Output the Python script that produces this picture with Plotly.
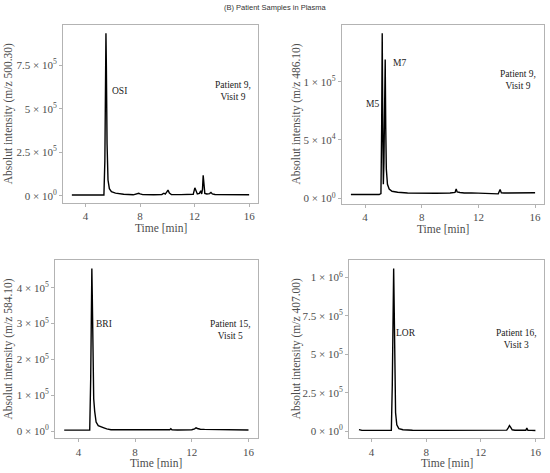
import plotly.graph_objects as go

# chromatogram points (time in min, intensity in counts)
osi_time = [3.0, 5.35, 5.42, 5.47, 5.5, 5.53, 5.58, 5.65, 5.75, 5.9, 6.2, 6.8, 7.5, 7.8, 7.9,
            8.0, 8.2, 9.0, 9.6, 9.75, 9.85, 9.95, 10.05, 10.15, 10.3, 11.0, 11.9, 12.02, 12.1,
            12.2, 12.35, 12.45, 12.52, 12.58, 12.63, 12.68, 12.75, 12.9, 13.1, 13.2, 13.3, 13.5,
            14.5, 16.0]
osi_int = [4000, 4000, 200000, 700000, 933000, 750000, 300000, 90000, 40000, 23000, 15000,
           8000, 5000, 10000, 14000, 10000, 6000, 5000, 7000, 14000, 9000, 20000, 32000, 15000,
           7000, 6000, 8000, 45000, 28000, 10000, 13000, 28000, 10000, 38000, 117000, 38000,
           13000, 10000, 12000, 19000, 10000, 7000, 5000, 5000]

m_time = [3.0, 3.5, 4.0, 4.5, 5.0, 5.12, 5.17, 5.21, 5.25, 5.29, 5.33, 5.38, 5.42, 5.46, 5.5,
          5.58, 5.7, 5.9, 6.3, 7.0, 8.0, 9.0, 10.0, 10.35, 10.43, 10.5, 10.7, 11.0, 11.5, 12.0,
          12.5, 13.0, 13.4, 13.53, 13.62, 13.8, 14.5, 15.0, 15.5, 16.0]
m_int = [3200, 3400, 3000, 3300, 3200, 4000, 60000, 141500, 60000, 12000, 30000, 100000,
         119000, 60000, 25000, 12000, 8000, 6000, 5200, 4500, 4200, 4300, 4500, 5000, 8000,
         5500, 5000, 4500, 4600, 4300, 4600, 4200, 3800, 7500, 4600, 4500, 4600, 4500, 5000,
         4700]

bri_time = [3.0, 4.0, 4.8, 4.87, 4.92, 4.95, 4.98, 5.02, 5.08, 5.15, 5.25, 5.4, 5.6, 5.8, 6.0,
            6.3, 7.0, 8.0, 9.0, 10.0, 10.45, 10.52, 10.6, 11.0, 12.0, 12.2, 12.3, 12.4, 12.6,
            12.9, 13.2, 13.35, 13.5, 14.0, 15.0, 16.0]
bri_int = [2500, 2500, 3000, 150000, 380000, 454000, 380000, 200000, 90000, 55000, 25000,
           15000, 11000, 9000, 6000, 3500, 3500, 3500, 3000, 3000, 3500, 6500, 3500, 3000, 3500,
           6000, 9000, 7000, 5000, 4500, 4500, 5000, 4000, 3000, 3000, 3000]

lor_time = [3.08, 3.3, 4.0, 5.0, 5.45, 5.52, 5.57, 5.62, 5.66, 5.7, 5.76, 5.85, 6.0, 6.3, 7.0,
            9.0, 11.0, 13.0, 13.9, 14.02, 14.1, 14.18, 14.3, 14.5, 15.0, 15.3, 15.37, 15.45,
            15.7, 16.0]
lor_int = [9000, 4000, 4000, 4000, 5000, 300000, 850000, 1060000, 800000, 400000, 120000,
           40000, 15000, 8000, 5000, 4000, 4000, 4000, 6000, 22000, 35000, 25000, 8000, 5000,
           4500, 5000, 20000, 5000, 4000, 3500]

x_ticks = [4, 8, 12, 16]

y_titles = ["Absolut intensity (m/z 500.30)", "Absolut intensity (m/z 486.10)",
            "Absolut intensity (m/z 584.10)", "Absolut intensity (m/z 407.00)"]

osi_yticks = [0, 250000, 500000, 750000]
osi_ylabels = ["0 × 10<sup>0</sup>", "2.5 × 10<sup>5</sup>", "5 × 10<sup>5</sup>", "7.5 × 10<sup>5</sup>"]
m_yticks = [0, 50000, 100000]
m_ylabels = ["0 × 10<sup>0</sup>", "5 × 10<sup>4</sup>", "1 × 10<sup>5</sup>"]
bri_yticks = [0, 100000, 200000, 300000, 400000]
bri_ylabels = ["0 × 10<sup>0</sup>", "1 × 10<sup>5</sup>", "2 × 10<sup>5</sup>", "3 × 10<sup>5</sup>", "4 × 10<sup>5</sup>"]
lor_yticks = [0, 250000, 500000, 750000, 1000000]
lor_ylabels = ["0 × 10<sup>0</sup>", "2.5 × 10<sup>5</sup>", "5 × 10<sup>5</sup>", "7.5 × 10<sup>5</sup>", "1 × 10<sup>6</sup>"]

# peak labels and sample labels: (panel, x, y, text, anchor)
labels = [
    (1, 5.8, 600000, "OSI", "left"),
    (1, 14.8, 600000, "Patient 9,<br>Visit 9", "center"),
    (2, 4.5, 81000, "M5", "center"),
    (2, 6.4, 116000, "M7", "center"),
    (2, 14.8, 101500, "Patient 9,<br>Visit 9", "center"),
    (3, 5.83, 298000, "BRI", "center"),
    (3, 14.75, 281000, "Patient 15,<br>Visit 5", "center"),
    (4, 6.55, 637000, "LOR", "center"),
    (4, 14.6, 598000, "Patient 16,<br>Visit 3", "center"),
]

W, H = 550, 473
# panel frames in pixels: left, right, top, bottom
frames = [(63, 258, 25, 203), (341.7, 544.3, 25, 204),
          (55, 257.7, 260.3, 438.3), (349, 544.3, 260.3, 438.3)]
y_ranges = [[-42000, 981000], [-4900, 148600], [-20400, 477000], [-47600, 1113000]]
ytick_sets = [(osi_yticks, osi_ylabels), (m_yticks, m_ylabels),
              (bri_yticks, bri_ylabels), (lor_yticks, lor_ylabels)]
series = [(osi_time, osi_int), (m_time, m_int), (bri_time, bri_int), (lor_time, lor_int)]

grey_line = "#b3b3b3"
grey_text = "#4d4d4d"
serif = "Liberation Serif, Times New Roman, serif"

fig = go.Figure()
annotations = []

for i in range(4):
    n = "" if i == 0 else str(i + 1)
    l, r, t, b = frames[i]
    fig.add_trace(go.Scatter(x=series[i][0], y=series[i][1], mode="lines",
                             line=dict(color="black", width=1.4),
                             xaxis="x" + n, yaxis="y" + n, showlegend=False))
    axis_common = dict(showline=True, mirror=True, linecolor=grey_line, linewidth=1,
                       showgrid=False, zeroline=False, ticks="outside", ticklen=3,
                       tickcolor=grey_line, automargin=False,
                       tickfont=dict(family=serif, size=11, color=grey_text))
    fig.layout["xaxis" + n] = dict(domain=[l / W, r / W], range=[2.35, 16.65],
                                   tickvals=x_ticks, anchor="y" + n, **axis_common)
    fig.layout["yaxis" + n] = dict(domain=[1 - b / H, 1 - t / H], range=y_ranges[i],
                                   tickvals=ytick_sets[i][0], ticktext=ytick_sets[i][1],
                                   anchor="x" + n, **axis_common)
    # axis titles
    annotations.append(dict(x=(l + r) / 2 / W, y=1 - (b + 25) / H,
                            xref="paper", yref="paper", text="Time [min]", showarrow=False,
                            xanchor="center", yanchor="middle",
                            font=dict(family=serif, size=11.5, color=grey_text)))
    ytx = 8.3 if i in (0, 2) else 296
    annotations.append(dict(x=ytx / W, y=1 - (t + b) / 2 / H, xref="paper", yref="paper",
                            text=y_titles[i], textangle=-90, showarrow=False,
                            xanchor="center", yanchor="middle",
                            font=dict(family=serif, size=11.5, color=grey_text)))

for panel, lx, ly, txt, al in labels:
    n = "" if panel == 1 else str(panel)
    annotations.append(dict(x=lx, y=ly, xref="x" + n, yref="y" + n, text=txt,
                            showarrow=False, align="center",
                            xanchor="left" if al == "left" else "center", yanchor="middle",
                            font=dict(family=serif, size=9.5, color="#1a1a1a")))

annotations.append(dict(x=0.5, y=1 - 8 / H, xref="paper", yref="paper",
                        text="(B) Patient Samples in Plasma", showarrow=False,
                        xanchor="center", yanchor="middle",
                        font=dict(family="Liberation Sans, Arial, sans-serif", size=7.5,
                                  color="#333333")))

fig.update_layout(template="none", width=W, height=H, margin=dict(l=0, r=0, t=0, b=0),
                  paper_bgcolor="white", plot_bgcolor="white",
                  annotations=annotations)

fig.write_html("out.html", config={"displayModeBar": False},
               post_script="document.body.style.margin='0';")
